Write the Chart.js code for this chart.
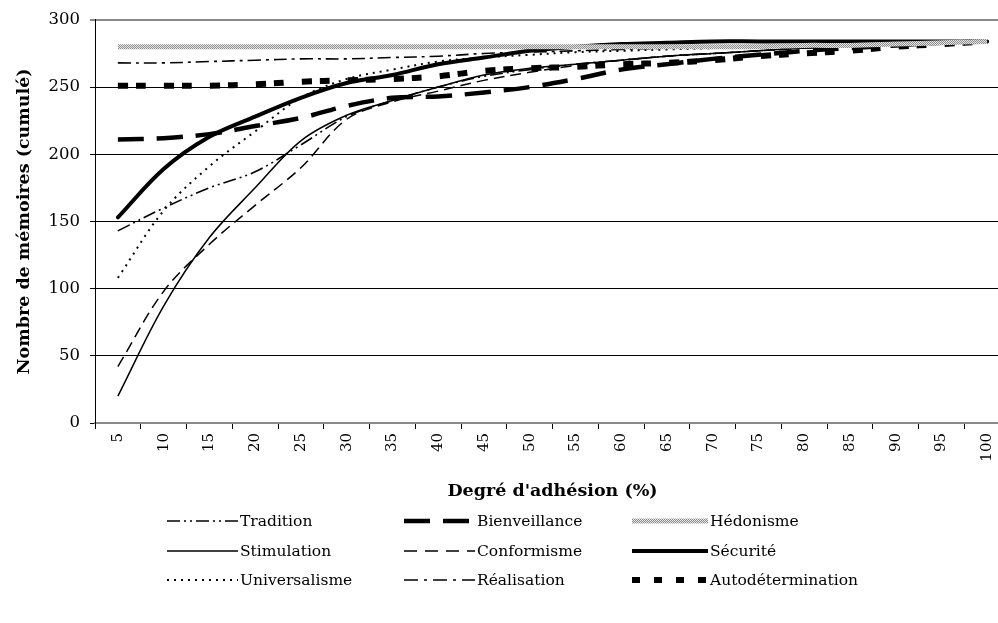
<!DOCTYPE html>
<html>
<head>
<meta charset="utf-8">
<script src="https://cdn.jsdelivr.net/npm/chart.js@4.4.0/dist/chart.umd.min.js"></script>
<style>
  html, body { margin: 0; padding: 0; background: #fff; overflow: hidden; }
  #wrap { position: relative; width: 998px; height: 623px; overflow: hidden; }
  #chart { position: absolute; left: 0; top: 0; }
  .leg { position: absolute; font-family: 'DejaVu Serif', serif; font-size: 15.5px; color: #000; height: 20px; line-height: 20px; white-space: nowrap; }
  .leg svg { position: absolute; left: 0; top: 4px; }
  .leg span { position: absolute; top: 0; }
</style>
</head>
<body>
<div id="wrap">
  <canvas id="chart" width="1012" height="623"></canvas>
  <div id="legend"></div>
</div>
<script>
// donnees (nombre de memoires cumule)
var degres = ['5', '10', '15', '20', '25', '30', '35', '40', '45', '50', '55', '60', '65', '70', '75', '80', '85', '90', '95', '100'];

var tradition        = [143, 160, 175, 187, 207, 228, 240, 250, 258, 263, 267, 270, 273, 275, 277, 279, 280, 282, 283, 284];
var bienveillance    = [211, 212, 215, 221, 227, 236, 242, 243, 246, 250, 256, 263, 267, 271, 274, 277, 279, 281, 283, 284];
var hedonisme        = [280, 280, 280, 280, 280, 280, 280, 280, 280, 280, 280, 280, 280, 280, 280, 281, 281, 282, 283, 284];
var stimulation      = [20, 87, 138, 175, 210, 229, 240, 250, 259, 264, 267, 270, 273, 275, 277, 279, 280, 282, 283, 284];
var conformisme      = [42, 98, 133, 162, 190, 226, 239, 247, 255, 261, 266, 270, 273, 275, 277, 279, 280, 282, 283, 284];
var securite         = [153, 189, 213, 228, 242, 253, 259, 267, 272, 277, 280, 282, 283, 284, 284, 284, 284, 284, 284, 284];
var universalisme    = [108, 158, 191, 217, 242, 256, 263, 269, 272, 274, 276, 277, 278, 279, 280, 281, 282, 283, 283, 284];
var realisation      = [268, 268, 269, 270, 271, 271, 272, 273, 275, 276, 277, 278, 279, 280, 280, 281, 282, 283, 283, 284];
var autodetermination = [251, 251, 251, 252, 254, 255, 256, 258, 262, 264, 265, 267, 268, 270, 273, 275, 277, 280, 282, 284];

var yTicks = [0, 50, 100, 150, 200, 250, 300];

// motif grise pour Hedonisme
function makePattern() {
    var c = document.createElement('canvas');
    c.width = 2; c.height = 2;
    var g = c.getContext('2d');
    g.fillStyle = '#e6e6e6'; g.fillRect(0, 0, 2, 2);
    g.fillStyle = '#8c8c8c'; g.fillRect(0, 0, 1, 1); g.fillRect(1, 1, 1, 1);
    return g.createPattern(c, 'repeat');
}
var ctx = document.getElementById('chart').getContext('2d');
var hatch = makePattern();

function serie(label, data, width, dash, color) {
    return {
        label: label,
        data: data,
        borderColor: color || '#000',
        borderWidth: width,
        borderDash: dash,
        borderCapStyle: 'butt',
        pointRadius: 0,
        fill: false,
        tension: 0.35
    };
}

var datasets = [
    serie('Hédonisme', hedonisme, 5, [], hatch),
    serie('Autodétermination', autodetermination, 6, [10, 8, 10, 18]),
    serie('Bienveillance', bienveillance, 4.5, [26, 13]),
    serie('Sécurité', securite, 4, []),
    serie('Réalisation', realisation, 1.6, [13, 5, 3, 5]),
    serie('Tradition', tradition, 1.6, [13, 4, 2, 4, 2, 4]),
    serie('Universalisme', universalisme, 2, [2, 5]),
    serie('Conformisme', conformisme, 1.5, [11, 6]),
    serie('Stimulation', stimulation, 1.5, [])
];
datasets[3].borderCapStyle = 'round';

var chart = new Chart(ctx, {
    type: 'line',
    data: { labels: degres, datasets: datasets },
    options: {
        responsive: false,
        animation: false,
        events: [],
        layout: { padding: { left: 10, top: 16, right: 2, bottom: 118 } },
        plugins: { legend: { display: false }, tooltip: { enabled: false } },
        scales: {
            x: {
                offset: true,
                afterFit: function (s) { s.height = 82; },
                grid: { offset: true, drawOnChartArea: false, tickLength: 6, color: '#000' },
                border: { color: '#8a8a8a', width: 2 },
                ticks: {
                    color: '#000', padding: 4, maxRotation: 90, minRotation: 90, autoSkip: false,
                    font: { family: 'DejaVu Serif', size: 15 }
                },
                title: {
                    display: true, text: "Degré d'adhésion (%)", color: '#000',
                    padding: { top: 4, bottom: 3 },
                    font: { family: 'DejaVu Serif', size: 17.5, weight: 'bold' }
                }
            },
            y: {
                min: 0, max: 300,
                afterFit: function (s) { s.width = 85; },
                afterBuildTicks: function (s) { s.ticks = yTicks.map(function (v) { return { value: v }; }); },
                grid: {
                    tickLength: 5,
                    color: function (c) { return c.tick && c.tick.value === 300 ? '#8a8a8a' : '#000'; },
                    lineWidth: function (c) { return c.tick && c.tick.value === 300 ? 2 : 1; }
                },
                border: { color: '#000', width: 1 },
                ticks: { color: '#000', padding: 10, font: { family: 'DejaVu Serif', size: 16.5 } },
                title: {
                    display: true, text: 'Nombre de mémoires (cumulé)', color: '#000',
                    padding: { top: 4, bottom: 0 },
                    font: { family: 'DejaVu Serif', size: 17.5, weight: 'bold' }
                }
            }
        }
    }
});

// legende en html, trois colonnes
var legendItems = [
    { label: 'Tradition', col: 0, row: 0, w: 1.6, dash: '13 4 2 4 2 4' },
    { label: 'Bienveillance', col: 1, row: 0, w: 4.5, dash: '26 13' },
    { label: 'Hédonisme', col: 2, row: 0, hatch: true },
    { label: 'Stimulation', col: 0, row: 1, w: 1.5, dash: '' },
    { label: 'Conformisme', col: 1, row: 1, w: 1.5, dash: '13 8' },
    { label: 'Sécurité', col: 2, row: 1, w: 4, dash: '' },
    { label: 'Universalisme', col: 0, row: 2, w: 2, dash: '2 5' },
    { label: 'Réalisation', col: 1, row: 2, w: 1.6, dash: '14 6 3 6' },
    { label: 'Autodétermination', col: 2, row: 2, w: 6, dash: '8 14' }
];
var colX = [167, 404, 632];
var sampleW = [71, 71, 76];
var rowY = [511, 541, 570];
var html = '';
legendItems.forEach(function (it) {
    var sw = sampleW[it.col];
    var svg = '<svg width="' + sw + '" height="12" xmlns="http://www.w3.org/2000/svg">';
    if (it.hatch) {
        svg += '<defs><pattern id="hp" width="2" height="2" patternUnits="userSpaceOnUse">' +
            '<rect width="2" height="2" fill="#e6e6e6"/><rect width="1" height="1" fill="#8c8c8c"/>' +
            '<rect x="1" y="1" width="1" height="1" fill="#8c8c8c"/></pattern></defs>' +
            '<rect x="0" y="3.5" width="' + sw + '" height="5" fill="url(#hp)"/>';
    } else {
        svg += '<line x1="0" y1="6" x2="' + sw + '" y2="6" stroke="#000" stroke-width="' + it.w + '"' +
            (it.dash ? ' stroke-dasharray="' + it.dash + '"' : '') + '/>';
    }
    svg += '</svg>';
    html += '<div class="leg" style="left:' + colX[it.col] + 'px;top:' + rowY[it.row] + 'px;">' +
        svg + '<span style="left:' + (sw + 2) + 'px">' + it.label + '</span></div>';
});
document.getElementById('legend').innerHTML = html;
</script>
</body>
</html>
